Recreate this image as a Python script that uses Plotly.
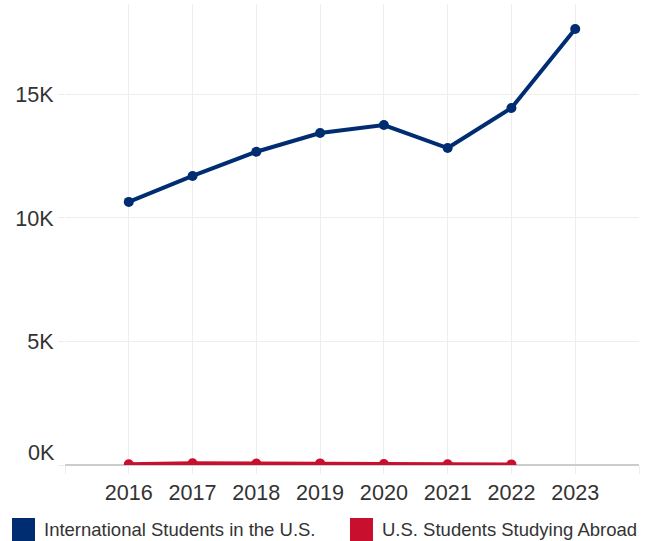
import plotly.graph_objects as go

years = [2016, 2017, 2018, 2019, 2020, 2021, 2022, 2023]
intl_students = [10650, 11700, 12680, 13440, 13760, 12830, 14450, 17650]
us_years = [2016, 2017, 2018, 2019, 2020, 2021, 2022]
us_abroad = [30, 70, 60, 65, 40, 30, 25]

series_names = ["International Students in the U.S.", "U.S. Students Studying Abroad"]
colors = ["#002D72", "#C8102E"]

y_tickvals = [0, 5000, 10000, 15000]
y_ticktext = ["", "5K", "10K", "15K"]
x_tickvals = list(range(2015, 2025))
x_ticktext = ["" if v in (2015, 2024) else str(v) for v in x_tickvals]

FONT = "Liberation Sans, Arial"
TICK_SIZE = 21.6

fig = go.Figure()
fig.add_trace(go.Scatter(x=years, y=intl_students, mode="lines+markers",
                         name=series_names[0], line=dict(color=colors[0], width=4),
                         marker=dict(size=10, color=colors[0]), showlegend=False))
fig.add_trace(go.Scatter(x=us_years, y=us_abroad, mode="lines+markers",
                         name=series_names[1], line=dict(color=colors[1], width=4),
                         marker=dict(size=10, color=colors[1]), showlegend=False))

W, H = 654, 541
L, R, T, B = 65, 15, 4, 76
pw, ph = W - L - R, H - T - B

def px(x):
    return (x - L) / pw

def py(y):
    return (H - B - y) / ph

# manual legend
legend_items = [(12, 42, 0), (350, 380, 1)]
for sx, tx, i in legend_items:
    fig.add_shape(type="rect", xref="paper", yref="paper",
                  x0=px(sx), x1=px(sx + 23), y0=py(541), y1=py(518),
                  fillcolor=colors[i], line=dict(width=0))
    fig.add_annotation(xref="paper", yref="paper", x=px(tx), y=py(529),
                       text=series_names[i], showarrow=False, xanchor="left",
                       yanchor="middle", font=dict(size=18.5, color="#333333", family=FONT))

fig.add_annotation(xref="paper", yref="y", x=px(57), y=0, yshift=13,
                   text="0K", showarrow=False, xanchor="right", yanchor="middle",
                   font=dict(size=TICK_SIZE, color="#333333", family=FONT))

fig.update_layout(
    width=W, height=H,
    margin=dict(l=L, r=R, t=T, b=B),
    paper_bgcolor="white", plot_bgcolor="white",
    font=dict(family=FONT, size=TICK_SIZE, color="#333333"),
    showlegend=False,
    xaxis=dict(range=[2015, 2024], tickvals=x_tickvals, ticktext=x_ticktext,
               showgrid=True, gridcolor="#eeeeee", gridwidth=1,
               ticks="outside", ticklen=8, tickcolor="#eeeeee",
               zeroline=False, showline=False, fixedrange=True),
    yaxis=dict(range=[0, 18660], tickvals=y_tickvals, ticktext=y_ticktext,
               showgrid=True, gridcolor="#eeeeee", gridwidth=1,
               ticks="outside", ticklen=6, tickcolor="#eeeeee",
               zeroline=True, zerolinecolor="#cccccc", zerolinewidth=1.5,
               showline=False, fixedrange=True),
)

fig.write_html("out.html", config={"displayModeBar": False},
               post_script="document.body.style.margin='0';document.body.style.overflow='hidden';")
